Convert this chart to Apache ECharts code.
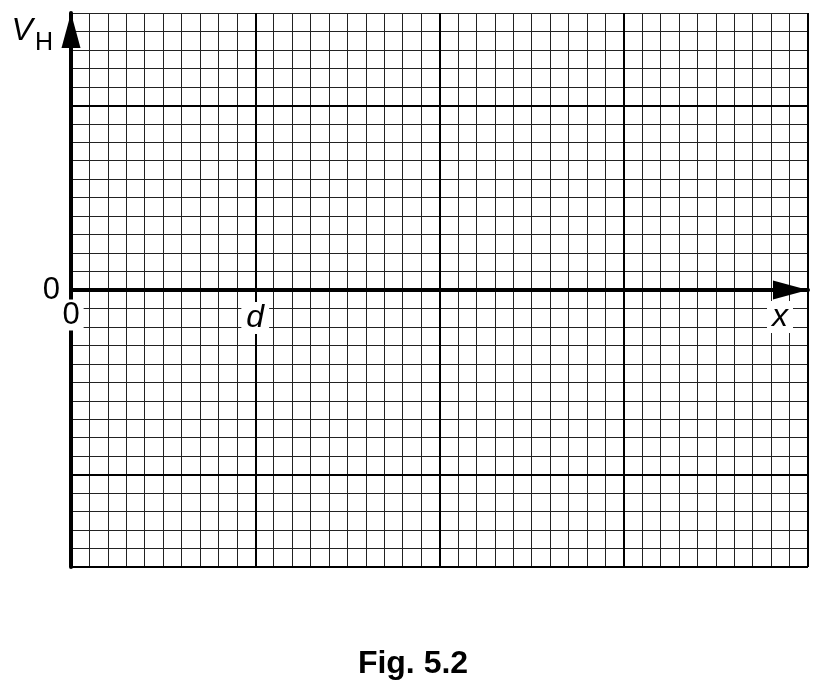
<!DOCTYPE html>
<html>
<head>
<meta charset="utf-8">
<script src="https://cdn.jsdelivr.net/npm/echarts@6/dist/echarts.min.js"></script>
<style>
  html, body { margin: 0; padding: 0; background: #fff; }
  #chart { width: 826px; height: 691px; }
</style>
</head>
<body>
<div id="chart"></div>
<script>
// ---- chart content ----
const xRange = [0, 4];            // in units of d
const yRange = [-1.5, 1.5];       // in major grid units
const xTickValues = [0, 1];
const xTickLabels = ['0', 'd'];
const yTickValues = [0];
const yTickLabels = ['0'];
const majorYLines = [-1.5, -1, 1];
const xAxisTitle = 'x';
const yAxisTitle = 'V';
const yAxisSub = 'H';
const caption = 'Fig. 5.2';

const FONT = '"Liberation Sans", Arial, Helvetica, sans-serif';

const chart = echarts.init(document.getElementById('chart'), null, { renderer: 'canvas' });

const option = {
  animation: false,
  backgroundColor: '#fff',
  textStyle: { fontFamily: FONT },
  title: {
    text: caption,
    left: 'center',
    top: 643,
    textStyle: { fontFamily: FONT, fontSize: 32, fontWeight: 'bold', color: '#000' }
  },
  grid: {
    left: 71, right: 18, top: 13, bottom: 124,
    containLabel: false,
    outerBoundsMode: 'none'
  },
  xAxis: {
    type: 'value',
    min: xRange[0], max: xRange[1], interval: 1,
    z: 3,
    name: '{x|' + xAxisTitle + '}',
    nameLocation: 'end',
    nameGap: -28,
    nameMoveOverlap: false,
    nameTextStyle: {
      align: 'center', verticalAlign: 'top', padding: [12, 0, 0, 0],
      rich: {
        x: { fontFamily: FONT, fontSize: 32, fontStyle: 'italic', color: '#000',
             lineHeight: 30, backgroundColor: '#fff', padding: [0, 5, 0, 5] }
      }
    },
    axisLine: {
      show: true, onZero: true,
      symbol: ['none', 'triangle'], symbolSize: [19, 35], symbolOffset: [0, -17.5],
      lineStyle: { color: '#000', width: 4 }
    },
    axisTick: { show: false },
    axisLabel: {
      show: true, margin: 10,
      formatter: function (v) {
        const i = xTickValues.indexOf(v);
        if (i < 0) return '';
        return (i === 0 ? '{n|' : '{i|') + xTickLabels[i] + '}';
      },
      rich: {
        n: { fontFamily: FONT, fontSize: 31, color: '#000', lineHeight: 26, backgroundColor: '#fff', padding: [0, 4, 0, 4] },
        i: { fontFamily: FONT, fontSize: 32, fontStyle: 'italic', color: '#000', lineHeight: 32, backgroundColor: '#fff', padding: [0, 5, 0, 5] }
      }
    },
    splitLine: { show: true, lineStyle: { color: '#000', width: 2 } },
    minorTick: { show: false, splitNumber: 10 },
    minorSplitLine: { show: true, lineStyle: { color: '#222', width: 1 } }
  },
  yAxis: {
    type: 'value',
    min: yRange[0], max: yRange[1], interval: 0.5,
    z: 0,
    name: '{v|' + yAxisTitle + '}{h|' + yAxisSub + '}',
    nameLocation: 'end',
    nameGap: -2,
    nameMoveOverlap: false,
    nameTextStyle: {
      align: 'right', verticalAlign: 'top', padding: [0, 18, 0, 0],
      rich: {
        v: { fontFamily: FONT, fontSize: 32, fontStyle: 'italic', color: '#000', lineHeight: 32, verticalAlign: 'top' },
        h: { fontFamily: FONT, fontSize: 25, color: '#000', lineHeight: 25, verticalAlign: 'top', padding: [16, 0, 0, 2] }
      }
    },
    axisLine: {
      show: true, onZero: true,
      symbol: ['none', 'triangle'], symbolSize: [19, 35], symbolOffset: [0, -17.5],
      lineStyle: { color: '#000', width: 4 }
    },
    axisTick: { show: false },
    axisLabel: {
      show: true, margin: 11,
      fontFamily: FONT, fontSize: 31, color: '#000',
      formatter: function (v) {
        const i = yTickValues.indexOf(v);
        return i < 0 ? '' : yTickLabels[i];
      }
    },
    splitLine: { show: true, lineStyle: { color: '#222', width: 1 } },
    minorTick: { show: false, splitNumber: 5 },
    minorSplitLine: { show: true, lineStyle: { color: '#222', width: 1 } }
  },
  series: [{
    type: 'line',
    data: [],
    z: 4,
    silent: true,
    markLine: {
      silent: true,
      symbol: ['none', 'none'],
      label: { show: false },
      animation: false,
      lineStyle: { color: '#000', width: 2, type: 'solid' },
      data: majorYLines.map(function (v) { return { yAxis: v }; })
    }
  }]
};

chart.setOption(option);

// Place the x tick labels just under the zero line (where the x axis is drawn)
const yZeroPx = chart.convertToPixel({ yAxisIndex: 0 }, 0);
const yBottomPx = chart.convertToPixel({ yAxisIndex: 0 }, yRange[0]);
chart.setOption({ xAxis: { axisLabel: { margin: 12 - (yBottomPx - yZeroPx) } } });
</script>
</body>
</html>
